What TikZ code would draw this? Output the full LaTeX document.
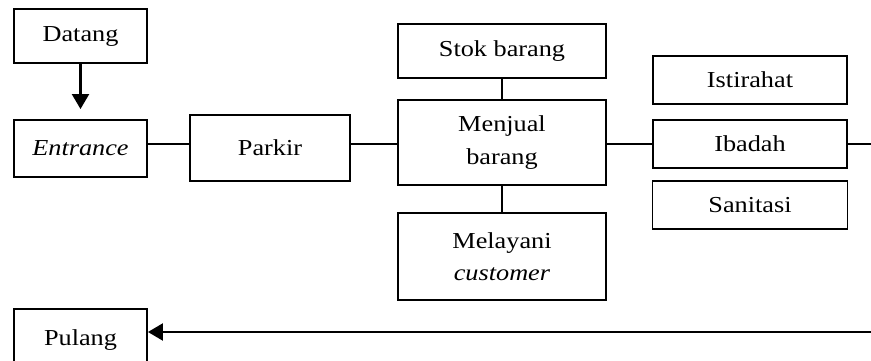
\documentclass[tikz,border=0pt]{standalone}
\usepackage{fontspec}
\setmainfont{Liberation Serif}[FakeStretch=1.15]
\usetikzlibrary{arrows.meta}
\tikzset{
  box/.style={draw, line width=1.1pt, inner sep=2pt, align=center,
    font=\fontsize{13pt}{18.5pt}\selectfont},
  link/.style={line width=1.3pt},
  arr/.style={link, -{Triangle[width=0.34cm,length=0.3cm]}}
}

\begin{document}
\begin{tikzpicture}[x=0.02cm,y=-0.02cm]
  \useasboundingbox (0,0) rectangle (871,361);

  % left column
  \node[box, minimum width=2.66cm, minimum height=1.08cm] (datang) at (80.5,36) {Datang};
  \node[box, minimum width=2.66cm, minimum height=1.14cm] (entrance) at (80.5,148.5) {\textit{Entrance}};
  \node[box, minimum width=2.66cm, minimum height=1.24cm] (pulang) at (80.5,340) {Pulang};

  \node[box, minimum width=3.2cm, minimum height=1.32cm] (parkir) at (270,148) {Parkir};

  % middle column
  \node[box, minimum width=4.16cm, minimum height=1.08cm] (stok) at (502,51) {Stok barang};
  \node[box, minimum width=4.16cm, minimum height=1.7cm] (jual) at (502,142.5) {Menjual\\barang};
  \node[box, minimum width=4.16cm, minimum height=1.74cm] (layan) at (502,256.5) {Melayani\\\textit{customer}};

  % right column
  \node[box, minimum width=3.88cm, minimum height=0.96cm] (istirahat) at (750,80) {Istirahat};
  \node[box, minimum width=3.88cm, minimum height=0.96cm] (ibadah) at (750,144) {Ibadah};
  \node[box, minimum width=3.9cm, minimum height=0.96cm] (sanitasi) at (750,205) {Sanitasi};

  \coordinate (row) at (0,144);
  \coordinate (outR) at (871,144);
  \coordinate (backR) at (871,332);

  \draw[arr, shorten >=0.2cm] (datang) -- (entrance);
  \draw[link] (entrance.east |- row) -- (parkir.west |- row);
  \draw[link] (parkir.east |- row) -- (jual.west |- row);
  \draw[link] (jual.east |- row) -- (ibadah.west |- row);
  \draw[link] (ibadah.east |- row) -- (outR);
  \draw[link] (stok) -- (jual);
  \draw[link] (jual) -- (layan);
  \draw[arr] (backR) -- (pulang.east |- backR);
\end{tikzpicture}
\end{document}
